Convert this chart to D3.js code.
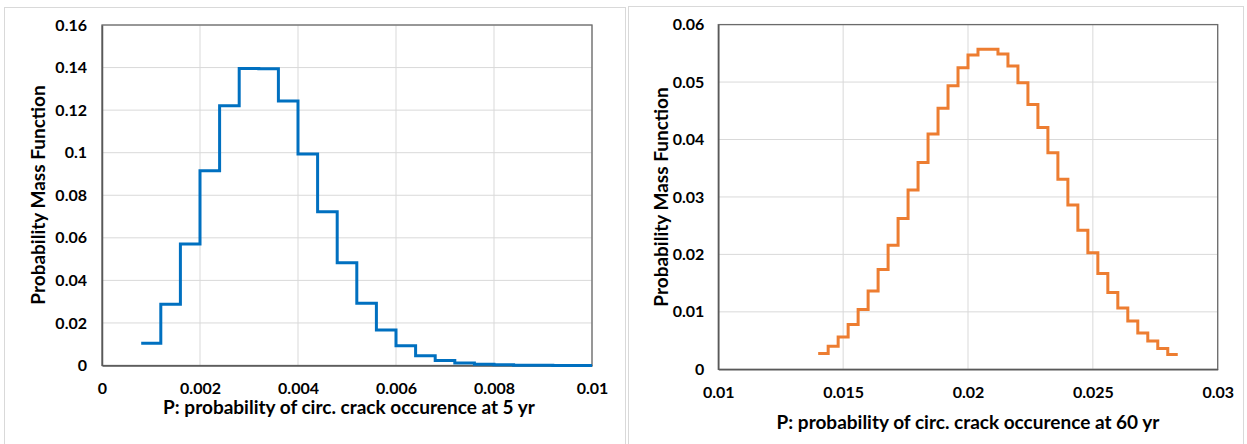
<!DOCTYPE html>
<html>
<head>
<meta charset="utf-8">
<script src="https://cdn.jsdelivr.net/npm/d3@7"></script>
<style>
  html, body { margin: 0; padding: 0; background: #fff; }
  svg { display: block; }
  text { font-family: Lato, "Open Sans", sans-serif; font-weight: bold; fill: #000; }
</style>
</head>
<body>
<svg id="chart" width="1247" height="444"></svg>
<script>
// ---- Data: left panel (5 yr) ----
const xEdges5 = [0.0008, 0.0012, 0.0016, 0.0020, 0.0024, 0.0028, 0.0032, 0.0036, 0.0040, 0.0044,
                 0.0048, 0.0052, 0.0056, 0.0060, 0.0064, 0.0068, 0.0072, 0.0076, 0.0080, 0.0084,
                 0.0088, 0.0092, 0.0096, 0.0100];
const pmf5 = [0.0105, 0.0288, 0.0571, 0.0915, 0.1220, 0.1396, 0.1395, 0.1243, 0.0994, 0.0723,
              0.0483, 0.0292, 0.0167, 0.0093, 0.0046, 0.0023, 0.0012, 0.0006, 0.0003, 0.00015,
              0.00007, 0.00003, 0.00001];
const xTicks5 = ["0", "0.002", "0.004", "0.006", "0.008", "0.01"];
const yTicks5 = ["0", "0.02", "0.04", "0.06", "0.08", "0.1", "0.12", "0.14", "0.16"];

// ---- Data: right panel (60 yr) ----
const xEdges60 = [0.0140, 0.0144, 0.0148, 0.0152, 0.0156, 0.0160, 0.0164, 0.0168, 0.0172, 0.0176,
                  0.0180, 0.0184, 0.0188, 0.0192, 0.0196, 0.0200, 0.0204, 0.0208, 0.0212, 0.0216,
                  0.0220, 0.0224, 0.0228, 0.0232, 0.0236, 0.0240, 0.0244, 0.0248, 0.0252, 0.0256,
                  0.0260, 0.0264, 0.0268, 0.0272, 0.0276, 0.0280, 0.0284];
const pmf60 = [0.00274, 0.0040, 0.00563, 0.00779, 0.0104, 0.01365, 0.01737, 0.0216, 0.02626, 0.0312,
               0.0360, 0.04096, 0.04543, 0.04937, 0.05251, 0.05472, 0.05572, 0.0557, 0.0549, 0.0528,
               0.0499, 0.0461, 0.0421, 0.0377, 0.0331, 0.02858, 0.02422, 0.02027, 0.01668, 0.01337,
               0.01068, 0.00842, 0.00633, 0.00493, 0.0036, 0.00256];
const xTicks60 = ["0.01", "0.015", "0.02", "0.025", "0.03"];
const yTicks60 = ["0", "0.01", "0.02", "0.03", "0.04", "0.05", "0.06"];

const yTitle = "Probability Mass Function";
const xTitle5 = "P: probability of circ. crack occurence at 5 yr";
const xTitle60 = "P: probability of circ. crack occurence at 60 yr";

const svg = d3.select("#chart");

function panel(opt) {
  const g = svg.append("g");
  // panel frame
  g.append("rect")
    .attr("x", opt.frame[0] + 0.5).attr("y", opt.frame[1] + 0.5)
    .attr("width", opt.frame[2]).attr("height", opt.frame[3])
    .attr("fill", "#fff").attr("stroke", "#d9d9d9").attr("stroke-width", 1);

  const xDom = [+opt.xTicks[0], +opt.xTicks[opt.xTicks.length - 1]];
  const yDom = [+opt.yTicks[0], +opt.yTicks[opt.yTicks.length - 1]];
  const x = d3.scaleLinear().domain(xDom).range([opt.plot.left, opt.plot.right]);
  const y = d3.scaleLinear().domain(yDom).range([opt.plot.bottom, opt.plot.top]);

  // gridlines
  g.append("g").selectAll("line.v").data(opt.xTicks.map(Number)).join("line")
    .attr("x1", d => x(d)).attr("x2", d => x(d))
    .attr("y1", opt.plot.top).attr("y2", opt.plot.bottom)
    .attr("stroke", "#d9d9d9").attr("stroke-width", 1);
  g.append("g").selectAll("line.h").data(opt.yTicks.map(Number)).join("line")
    .attr("x1", opt.plot.left).attr("x2", opt.plot.right)
    .attr("y1", d => y(d)).attr("y2", d => y(d))
    .attr("stroke", "#d9d9d9").attr("stroke-width", 1);

  // plot border
  g.append("rect")
    .attr("x", opt.plot.left).attr("y", opt.plot.top)
    .attr("width", opt.plot.right - opt.plot.left)
    .attr("height", opt.plot.bottom - opt.plot.top)
    .attr("fill", "none").attr("stroke", "#6b6b6b").attr("stroke-width", 1.3);

  // axes
  const xAxis = d3.axisBottom(x)
    .tickValues(opt.xTicks.map(Number))
    .tickFormat((d, i) => opt.xTicks[i])
    .tickSize(0).tickPadding(opt.xPad);
  const gx = g.append("g").attr("transform", `translate(0,${opt.plot.bottom})`).call(xAxis);
  gx.select(".domain").attr("stroke", "#595959").attr("stroke-width", 1.5);
  gx.selectAll("text").style("font-size", "16px");

  const yAxis = d3.axisLeft(y)
    .tickValues(opt.yTicks.map(Number))
    .tickFormat((d, i) => opt.yTicks[i])
    .tickSize(0).tickPadding(opt.yPad);
  const gy = g.append("g").attr("transform", `translate(${opt.plot.left},0)`).call(yAxis);
  gy.select(".domain").attr("stroke", "#595959").attr("stroke-width", 1.5);
  gy.selectAll("text").style("font-size", "16px");

  // step line
  const pts = opt.edges.map((e, i) => [e, opt.values[Math.min(i, opt.values.length - 1)]]);
  g.append("path")
    .datum(pts)
    .attr("fill", "none")
    .attr("stroke", opt.color)
    .attr("stroke-width", 3)
    .attr("stroke-linejoin", "miter")
    .attr("d", d3.line().x(d => x(d[0])).y(d => y(d[1])).curve(d3.curveStepAfter));

  // titles
  g.append("text")
    .attr("x", (opt.plot.left + opt.plot.right) / 2 + opt.xTitleShift)
    .attr("y", opt.xTitleY)
    .attr("text-anchor", "middle")
    .style("font-size", "19px")
    .text(opt.xTitle);
  g.append("text")
    .attr("transform", `translate(${opt.yTitleX},${opt.yTitleCY}) rotate(-90)`)
    .attr("text-anchor", "middle")
    .style("font-size", "19px")
    .text(yTitle);
}

panel({
  frame: [4, 7, 621, 445],
  plot: { left: 102, right: 592, top: 25, bottom: 365.5 },
  xTicks: xTicks5, yTicks: yTicks5,
  edges: xEdges5, values: pmf5, color: "#0070C0",
  xPad: 17, yPad: 15,
  xTitle: xTitle5, xTitleY: 414, xTitleShift: 2,
  yTitleX: 45, yTitleCY: 195
});

panel({
  frame: [628, 6, 615, 446],
  plot: { left: 718.3, right: 1217.7, top: 24.6, bottom: 369.3 },
  xTicks: xTicks60, yTicks: yTicks60,
  edges: xEdges60, values: pmf60, color: "#ED7D31",
  xPad: 17, yPad: 14,
  xTitle: xTitle60, xTitleY: 429, xTitleShift: 0,
  yTitleX: 668, yTitleCY: 197
});
</script>
</body>
</html>
